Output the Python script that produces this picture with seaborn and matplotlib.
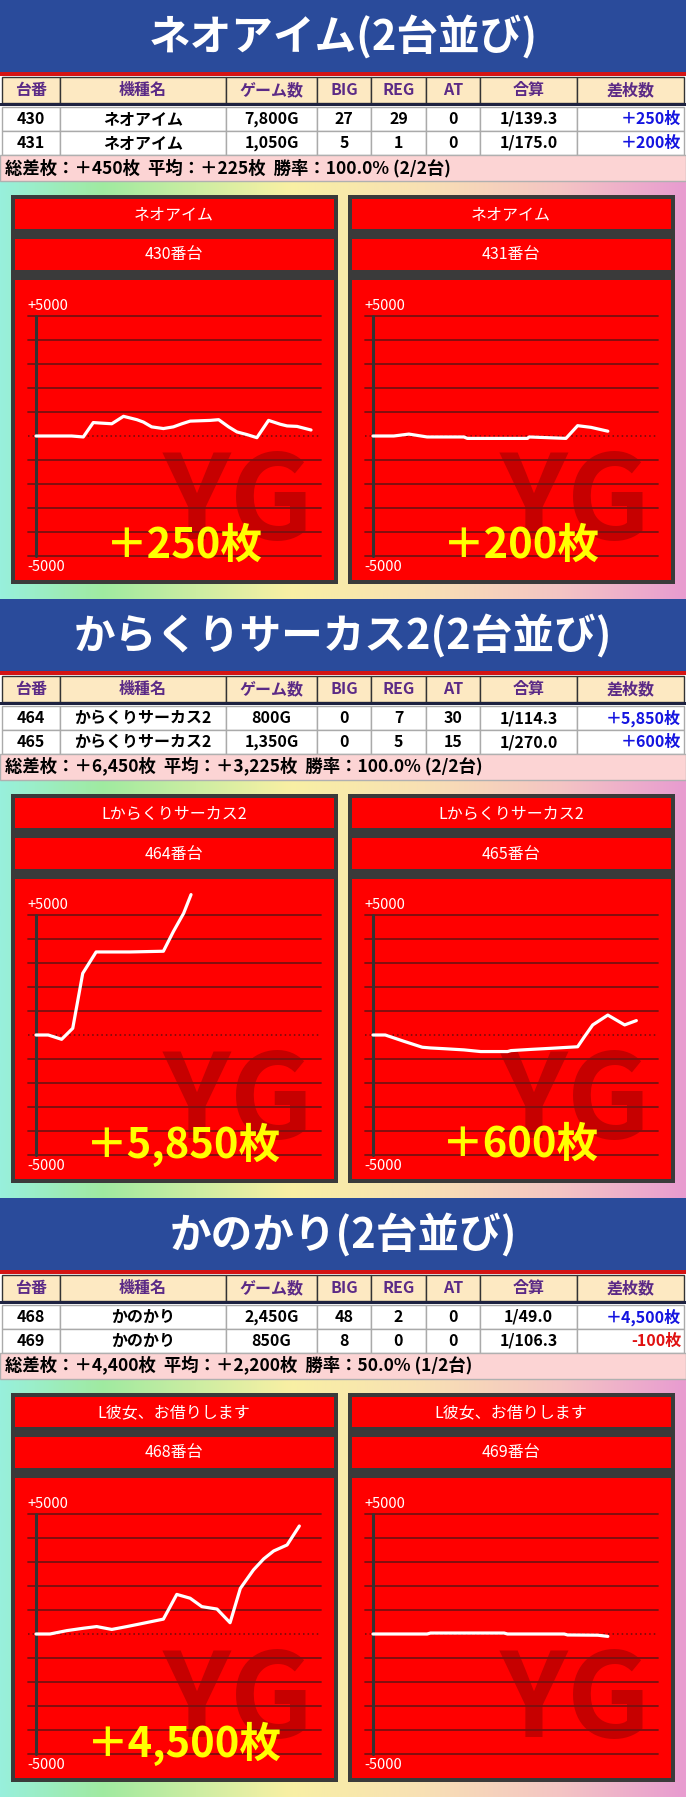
import numpy as np
import seaborn as sns
import matplotlib.pyplot as plt
from matplotlib.patches import Rectangle
from matplotlib.colors import LinearSegmentedColormap

sns.set_style("white")
plt.rcParams['font.family'] = ['Noto Sans CJK JP', 'DejaVu Sans']

# ---- data ----
titles = ["ネオアイム(2台並び)", "からくりサーカス2(2台並び)", "かのかり(2台並び)"]
table_names = ["ネオアイム", "からくりサーカス2", "かのかり"]
panel_names = ["ネオアイム", "Lからくりサーカス2", "L彼女、お借りします"]
header = ["台番", "機種名", "ゲーム数", "BIG", "REG", "AT", "合算", "差枚数"]

units = [[430, 431], [464, 465], [468, 469]]
games = [["7,800G", "1,050G"], ["800G", "1,350G"], ["2,450G", "850G"]]
big = [[27, 5], [0, 0], [48, 8]]
reg = [[29, 1], [7, 5], [2, 0]]
at = [[0, 0], [30, 15], [0, 0]]
gassan = [["1/139.3", "1/175.0"], ["1/114.3", "1/270.0"], ["1/49.0", "1/106.3"]]
diff = [[250, 200], [5850, 600], [4500, -100]]

# slump graphs: x = progress through the day (%), y = coin difference
s430_x = [0, 12.5, 16.6, 20.1, 22.5, 26.6, 30.7, 35.4, 37.7, 40.6, 44.7, 48.2, 51.2,
          54.1, 61.1, 64.1, 67.6, 70.5, 74.0, 77.5, 81.6, 85.7, 88.1, 91.6, 96.5]
s430_y = [0, 0, -40, 560, 540, 510, 820, 680, 580, 380, 310, 380, 510,
          620, 650, 680, 380, 170, 60, -70, 650, 490, 420, 400, 250]
s431_x = [0, 7.3, 12.6, 19.0, 31.9, 33.1, 54.2, 54.8, 67.7, 71.8, 76.5, 82.4]
s431_y = [0, 0, 80, -40, -40, -100, -100, -40, -100, 430, 360, 200]
s464_x = [0, 4.3, 9.0, 12.9, 16.4, 21.1, 33.0, 44.7, 48.2, 51.8, 54.4]
s464_y = [0, 0, -180, 280, 2570, 3460, 3460, 3490, 4310, 5070, 5850]
s465_x = [0, 4.3, 10.8, 17.3, 20.2, 24.9, 31.9, 37.8, 47.2, 48.4, 55.4, 60.1,
          66.0, 71.8, 74.2, 77.1, 82.4, 88.3, 92.4]
s465_y = [0, 0, -260, -510, -540, -570, -620, -690, -690, -650, -600, -570,
          -530, -490, -70, 420, 830, 420, 600]
s468_x = [0, 4.9, 10.8, 16.6, 21.3, 26.6, 31.9, 36.5, 44.7, 49.4, 54.1, 58.2,
          63.5, 68.1, 71.7, 76.3, 79.9, 83.4, 88.1, 92.4]
s468_y = [0, 0, 140, 240, 310, 190, 310, 420, 620, 1650, 1490, 1140,
          1040, 470, 1900, 2670, 3130, 3460, 3710, 4500]
s469_x = [0, 19.0, 20.2, 46.0, 47.2, 67.1, 68.3, 78.9, 82.4]
s469_y = [0, 0, 40, 40, 0, 0, -40, -50, -100]

series = [[(s430_x, s430_y), (s431_x, s431_y)],
          [(s464_x, s464_y), (s465_x, s465_y)],
          [(s468_x, s468_y), (s469_x, s469_y)]]

# ---- layout (pixels) ----
W, H = 686, 1797
SEC = 599
col_edges = [2, 60, 226, 317, 371, 426, 480, 577, 684]
panel_left = [11, 348]


def fmt_diff(v, wide=True):
    sign = ("＋" if wide else "+") if v >= 0 else "-"
    return f"{sign}{abs(v):,}枚"


fig = plt.figure(figsize=(W / 100, H / 100), dpi=100)
canvas = fig.add_axes([0, 0, 1, 1])

# rainbow-ish background
bg_cmap = LinearSegmentedColormap.from_list(
    "bg", [(0, "#98f0dc"), (0.15, "#a0eaa0"), (0.42, "#f8f0a4"),
           (0.62, "#f8e0b4"), (0.82, "#f4c4c4"), (1.0, "#e89cd0")])
grad = bg_cmap(np.linspace(0, 1, 256))[None, :, :3]
canvas.imshow(grad, extent=[0, W, H, 0], aspect="auto", zorder=0)
canvas.set_xlim(0, W)
canvas.set_ylim(H, 0)
canvas.axis("off")


def box(x, y, w, h, fc, ec="none", lw=0, z=1):
    canvas.add_patch(Rectangle((x, y), w, h, facecolor=fc, edgecolor=ec,
                               linewidth=lw, zorder=z))


for k in range(3):
    off = k * SEC

    # title banner
    box(0, off, W, 72, "#2a4b9b")
    box(0, off + 72, W, 4, "#d41414")
    canvas.text(W / 2, off + 37, titles[k], color="white", fontsize=30,
                fontweight="bold", ha="center", va="center", zorder=3)

    # table
    box(0, off + 76, W, 105, "white")
    for c in range(8):
        x0, x1 = col_edges[c], col_edges[c + 1]
        box(x0, off + 77, x1 - x0, 26, "#fde9c2", ec="#333333", lw=1, z=2)
        canvas.text((x0 + x1) / 2, off + 90, header[c], color="#5b2a86",
                    fontsize=11.5, fontweight="bold", ha="center", va="center", zorder=3)
    box(0, off + 103, W, 3, "#1e2240", z=2)

    for r in range(2):
        y0 = off + 107 + r * 24
        cells = [str(units[k][r]), table_names[k], games[k][r], str(big[k][r]),
                 str(reg[k][r]), str(at[k][r]), gassan[k][r]]
        for c in range(8):
            x0, x1 = col_edges[c], col_edges[c + 1]
            box(x0, y0, x1 - x0, 24, "white", ec="#aaaaaa", lw=1, z=2)
            if c < 7:
                canvas.text((x0 + x1) / 2, y0 + 12, cells[c], color="black",
                            fontsize=11.5, fontweight="bold", ha="center", va="center", zorder=3)
        v = diff[k][r]
        canvas.text(681, y0 + 12, fmt_diff(v), color="#1414e0" if v >= 0 else "#e01010",
                    fontsize=11.5, fontweight="bold", ha="right", va="center", zorder=3)

    total = sum(diff[k])
    wins = sum(1 for v in diff[k] if v > 0)
    summary = (f"総差枚：{fmt_diff(total)}  平均：{fmt_diff(total // 2)}  "
               f"勝率：{wins / 2 * 100:.1f}% ({wins}/2台)")
    box(0, off + 155, W, 26, "#fcd4d4", ec="#b0b0b0", lw=1, z=2)
    canvas.text(5, off + 168, summary, color="black", fontsize=12.5,
                fontweight="bold", ha="left", va="center", zorder=3)

    # graph panels
    for j in range(2):
        px = panel_left[j]
        py = off + 195
        box(px, py, 327, 389, "#3a3a3a")
        box(px + 4, py + 4, 319, 30, "#ff0000", z=2)
        box(px + 4, py + 44, 319, 31, "#ff0000", z=2)
        box(px + 4, py + 85, 319, 300, "#ff0000", z=2)
        canvas.text(px + 163, py + 20, panel_names[k], color="white", fontsize=11.5,
                    ha="center", va="center", zorder=3)
        canvas.text(px + 163, py + 60, f"{units[k][j]}番台", color="white", fontsize=11.5,
                    ha="center", va="center", zorder=3)
        canvas.text(px + 227, off + 505, "YG", color="#c60000", fontsize=84,
                    fontweight="bold", ha="center", va="center", zorder=3)
        canvas.text(px + 16, off + 306, "+5000", color="white", fontsize=10.5,
                    ha="left", va="center", zorder=3)
        canvas.text(px + 16, off + 567, "-5000", color="white", fontsize=10.5,
                    ha="left", va="center", zorder=3)

        ax = fig.add_axes([(px + 17) / W, 1 - (off + 556) / H, 293 / W, 240 / H])
        for v in range(-5000, 5001, 1000):
            if v == 0:
                ax.axhline(v, color="#6a0c0c", lw=1.1, ls=(0, (1, 2)), zorder=1)
            else:
                ax.axhline(v, color="#7a1010", lw=1.3, zorder=1)
        ax.axvline(0, color="#333333", lw=2.2, zorder=2)
        xs, ys = series[k][j]
        sns.lineplot(x=xs, y=ys, ax=ax, color="white", linewidth=2.3, zorder=3)
        for ln in ax.lines:
            ln.set_clip_on(False)
        ax.set_xlim(-2.8, 100)
        ax.set_ylim(-5000, 5000)
        ax.axis("off")

        v = diff[k][j]
        if v > 0:
            ax.text(px + 173, off + 546, fmt_diff(v), transform=canvas.transData,
                    color="#ffff00", fontsize=30, fontweight="bold",
                    ha="center", va="center", zorder=10, clip_on=False)

fig.savefig("out.png", dpi=100)
plt.close(fig)
